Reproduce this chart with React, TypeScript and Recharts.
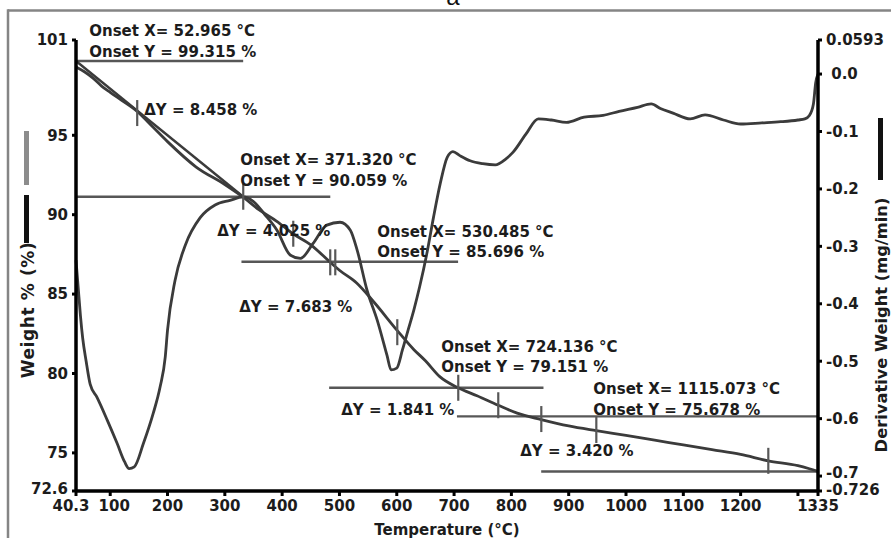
import React from 'react';
import {
  ComposedChart,
  Line,
  Scatter,
  XAxis,
  YAxis,
  ReferenceLine,
  Label,
} from 'recharts';

// TG curve (weight %)
const tgTemp = [
  40.3, 55, 70, 85, 100, 120, 147, 175, 200, 250, 300, 332, 360, 390, 419, 450,
  484, 500, 530, 560, 601, 630, 650, 675, 707, 740, 777, 810, 852, 900, 948,
  1000, 1050, 1100, 1150, 1200, 1248, 1300, 1320, 1335,
];
const tgWeight = [
  99.3, 99.0, 98.6, 98.1, 97.7, 97.2, 96.5, 95.5, 94.6, 93.0, 91.9, 91.1, 90.3,
  89.6, 88.8, 88.1, 87.0, 86.5, 85.7, 84.5, 82.7, 81.5, 80.8, 79.8, 79.1, 78.6,
  78.0, 77.5, 77.1, 76.7, 76.4, 76.1, 75.8, 75.5, 75.2, 74.9, 74.5, 74.2, 74.0,
  73.83,
];

// DTG curve (derivative weight, mg/min)
const dtgTemp = [
  40.3, 44, 48, 52, 58, 65, 77, 95, 112, 125, 133, 142, 158, 175, 187, 196, 200,
  213, 231, 257, 283, 309, 332, 350, 370, 391, 414, 432, 454, 478, 501, 519,
  531, 548, 566, 583, 590, 600, 610, 620, 630, 640, 653, 664, 676, 688, 698,
  710, 728, 750, 772, 790, 803, 825, 847, 870, 896, 927, 960, 988, 1020, 1044,
  1060, 1082, 1112, 1138, 1170, 1200, 1237, 1270, 1300, 1312, 1320, 1327, 1331,
  1335,
];
const dtgDeriv = [
  -0.324, -0.37, -0.42, -0.46, -0.5, -0.54, -0.563, -0.603, -0.643, -0.675,
  -0.687, -0.684, -0.643, -0.591, -0.545, -0.493, -0.446, -0.36, -0.298, -0.25,
  -0.228, -0.22, -0.214, -0.222, -0.245, -0.272, -0.315, -0.321, -0.295,
  -0.263, -0.258, -0.272, -0.307, -0.376, -0.429, -0.49, -0.515, -0.512,
  -0.48, -0.445, -0.41, -0.37, -0.31, -0.25, -0.19, -0.145, -0.135, -0.142,
  -0.151, -0.156, -0.158, -0.148, -0.136, -0.105, -0.078, -0.08, -0.084,
  -0.075, -0.072, -0.065, -0.058, -0.052, -0.06, -0.068, -0.078, -0.071,
  -0.08, -0.087, -0.085, -0.083, -0.08, -0.078, -0.072, -0.052, -0.015, 0.0,
];

// axis ticks
const tempTicks = [40.3, 100, 200, 300, 400, 500, 600, 700, 800, 900, 1000, 1100, 1200, 1300, 1335];
const tempTickLabels = ['40.3', '100', '200', '300', '400', '500', '600', '700', '800', '900', '1000', '1100', '1200', '', '1335'];
const weightTicks = [72.6, 75, 80, 85, 90, 95, 101];
const derivTicks = [-0.726, -0.7, -0.6, -0.5, -0.4, -0.3, -0.2, -0.1, 0, 0.0593];
const derivTickLabels = ['-0.726', '-0.7', '-0.6', '-0.5', '-0.4', '-0.3', '-0.2', '-0.1', '\u00a00.0', '0.0593'];

// onset baselines (weight level, from / to temperature)
const onsetLevel = [99.68, 91.13, 87.04, 79.1, 77.3, 73.83];
const onsetFrom = [40.3, 40.3, 329, 482, 705, 852];
const onsetTo = [332, 484, 707, 856, 1335, 1335];

// tangent through first step
const tangentTemp = [40.3, 332.1];
const tangentWeight = [99.68, 91.13];

// step markers on the TG curve
const markerTemp = [147.1, 332.1, 419.4, 483.9, 492.7, 600.9, 707.3, 777.1, 852.2, 948.2, 1248.3];
const markerWeight = [96.4, 91.13, 88.8, 87.0, 87.0, 82.6, 79.1, 78.0, 77.13, 76.44, 74.5];

// annotation text, anchored at the last line's baseline
const noteTemp = [63.4, 326.9, 159.3, 286.7, 566.0, 325.1, 677.7, 503.1, 942.9, 815.5];
const noteWeight = [99.93, 91.81, 96.28, 88.66, 87.33, 83.87, 80.09, 77.39, 77.39, 74.8];
const noteText = [
  ['Onset X= 52.965 \u00b0C', 'Onset Y = 99.315 %'],
  ['Onset X= 371.320 \u00b0C', 'Onset Y = 90.059 %'],
  ['\u0394Y = 8.458 %'],
  ['\u0394Y = 4.025 %'],
  ['Onset X= 530.485 \u00b0C', 'Onset Y = 85.696 %'],
  ['\u0394Y = 7.683 %'],
  ['Onset X= 724.136 \u00b0C', 'Onset Y = 79.151 %'],
  ['\u0394Y = 1.841 %'],
  ['Onset X= 1115.073 \u00b0C', 'Onset Y = 75.678 %'],
  ['\u0394Y = 3.420 %'],
];

const tgData = tgTemp.map((t, i) => ({ t, w: tgWeight[i] }));
const dtgData = dtgTemp.map((t, i) => ({ t, d: dtgDeriv[i] }));
const markerData = markerTemp.map((t, i) => ({ t, w: markerWeight[i] }));
const noteData = noteTemp.map((t, i) => ({ t, w: noteWeight[i], lines: noteText[i] }));

const FONT = '"DejaVu Sans", Verdana, sans-serif';
const INK = '#1c1c1c';
const CURVE = '#3b3b3b';
const GUIDE = '#575757';

const tickStyle = { fill: INK, fontSize: 15, fontWeight: 700, fontFamily: FONT };
const axisStroke = { stroke: '#000', strokeWidth: 3.5 };
const tickLineStyle = { stroke: '#000', strokeWidth: 3 };

// small nudges so crowded end labels sit apart like the original
const TempTick = (props: any) => {
  const { x, y, payload } = props;
  const idx = tempTicks.indexOf(payload.value);
  const dx = idx === 0 ? -5 : idx === 1 ? 4 : 0;
  return (
    <text x={x + dx} y={y + 1} dy="0.71em" textAnchor="middle" {...tickStyle}>
      {tempTickLabels[idx]}
    </text>
  );
};

const WeightTick = (props: any) => {
  const { x, y, payload } = props;
  const dy = payload.value === weightTicks[0] ? -2 : 0;
  return (
    <text x={x} y={y + dy} dy="0.355em" textAnchor="end" {...tickStyle}>
      {String(payload.value)}
    </text>
  );
};

const DerivTick = (props: any) => {
  const { x, y, payload } = props;
  const idx = derivTicks.indexOf(payload.value);
  const dy = idx === 0 ? -1 : idx === 1 ? -3 : 0;
  return (
    <text x={x} y={y + dy} dy="0.355em" textAnchor="start" {...tickStyle}>
      {derivTickLabels[idx]}
    </text>
  );
};

const StepMark = (props: any) => {
  const { cx, cy } = props;
  return <line x1={cx} x2={cx} y1={cy - 13} y2={cy + 13} stroke={GUIDE} strokeWidth={2.2} />;
};

const NoteText = (props: any) => {
  const { cx, cy, payload } = props;
  const lines: string[] = payload.lines;
  return (
    <text x={cx} y={cy} fill={INK} fontSize={15} fontWeight={700} fontFamily={FONT}>
      {lines.map((s, i) => (
        <tspan key={i} x={cx} y={cy - (lines.length - 1 - i) * 20.5}>
          {s}
        </tspan>
      ))}
    </text>
  );
};

const WeightTitle = (props: any) => {
  const { viewBox } = props;
  const x = viewBox.x + 28;
  const cy = viewBox.y + 270;
  return (
    <g>
      <rect x={x - 4} y={viewBox.y + 91} width={5} height={54} fill="#8c8c8c" />
      <rect x={x - 4} y={viewBox.y + 155} width={5} height={48} fill="#111" />
      <text
        x={x}
        y={cy}
        transform={`rotate(-90 ${x} ${cy})`}
        textAnchor="middle"
        dominantBaseline="central"
        fill={INK}
        fontSize={17}
        fontWeight={700}
        fontFamily={FONT}
        letterSpacing={0.6}
      >
        Weight % (%)
      </text>
    </g>
  );
};

const DerivTitle = (props: any) => {
  const { viewBox } = props;
  const x = viewBox.x + 63;
  const cy = viewBox.y + 285;
  return (
    <g>
      <rect x={x - 3} y={viewBox.y + 78} width={5} height={62} fill="#111" />
      <text
        x={x}
        y={cy}
        transform={`rotate(-90 ${x} ${cy})`}
        textAnchor="middle"
        dominantBaseline="central"
        fill={INK}
        fontSize={16.3}
        fontWeight={700}
        fontFamily={FONT}
      >
        Derivative Weight (mg/min)
      </text>
    </g>
  );
};

const TempTitle = (props: any) => {
  const { viewBox } = props;
  return (
    <text
      x={viewBox.x + viewBox.width / 2}
      y={viewBox.y + 44}
      textAnchor="middle"
      fill={INK}
      fontSize={15}
      fontWeight={700}
      fontFamily={FONT}
    >
      Temperature (°C)
    </text>
  );
};

export default function App() {
  return (
    <div style={{ position: 'absolute', left: 0, top: 0, width: 891, height: 538, overflow: 'hidden', background: '#fff' }}>
      <svg width={891} height={538} style={{ position: 'absolute', left: 0, top: 0 }}>
        <line x1={8} x2={891} y1={10.5} y2={10.5} stroke="#858585" strokeWidth={2.5} />
        <line x1={8} x2={8} y1={9.3} y2={538} stroke="#858585" strokeWidth={2.5} />
        <text x={453} y={5} textAnchor="middle" fontSize={24} fontFamily='"Liberation Sans", Arial, sans-serif' fill="#111">
          a
        </text>
      </svg>
      <ComposedChart
        width={891}
        height={538}
        margin={{ top: 40, right: 0, bottom: 0, left: 0 }}
        style={{ position: 'absolute', left: 0, top: 0 }}
      >
        <XAxis
          dataKey="t"
          type="number"
          domain={[40.3, 1335]}
          ticks={tempTicks}
          interval={0}
          height={47}
          tick={<TempTick />}
          axisLine={axisStroke}
          tickLine={tickLineStyle}
          tickSize={5}
          tickMargin={3}
        >
          <Label content={<TempTitle />} />
        </XAxis>
        <YAxis
          yAxisId="w"
          type="number"
          domain={[72.6, 101]}
          ticks={weightTicks}
          interval={0}
          width={76}
          tick={<WeightTick />}
          axisLine={axisStroke}
          tickLine={tickLineStyle}
          tickSize={4}
          tickMargin={4}
        >
          <Label content={<WeightTitle />} />
        </YAxis>
        <YAxis
          yAxisId="d"
          orientation="right"
          type="number"
          domain={[-0.726, 0.0593]}
          ticks={derivTicks}
          interval={0}
          width={73}
          tick={<DerivTick />}
          axisLine={axisStroke}
          tickLine={tickLineStyle}
          tickSize={4}
          tickMargin={4}
        >
          <Label content={<DerivTitle />} />
        </YAxis>

        {onsetLevel.map((y, i) => (
          <ReferenceLine
            key={`onset-${i}`}
            yAxisId="w"
            segment={[
              { x: onsetFrom[i], y },
              { x: onsetTo[i], y },
            ]}
            stroke={GUIDE}
            strokeWidth={2.4}
            ifOverflow="visible"
          />
        ))}
        <ReferenceLine
          yAxisId="w"
          segment={[
            { x: tangentTemp[0], y: tangentWeight[0] },
            { x: tangentTemp[1], y: tangentWeight[1] },
          ]}
          stroke={CURVE}
          strokeWidth={2.4}
          ifOverflow="visible"
        />

        <Line
          data={dtgData}
          yAxisId="d"
          dataKey="d"
          type="monotone"
          stroke={CURVE}
          strokeWidth={2.8}
          dot={false}
          activeDot={false}
          isAnimationActive={false}
        />
        <Line
          data={tgData}
          yAxisId="w"
          dataKey="w"
          type="monotone"
          stroke={CURVE}
          strokeWidth={2.8}
          dot={false}
          activeDot={false}
          isAnimationActive={false}
        />
        <Scatter data={markerData} yAxisId="w" dataKey="w" shape={<StepMark />} isAnimationActive={false} />
        <Scatter data={noteData} yAxisId="w" dataKey="w" shape={<NoteText />} isAnimationActive={false} />
      </ComposedChart>
    </div>
  );
}
